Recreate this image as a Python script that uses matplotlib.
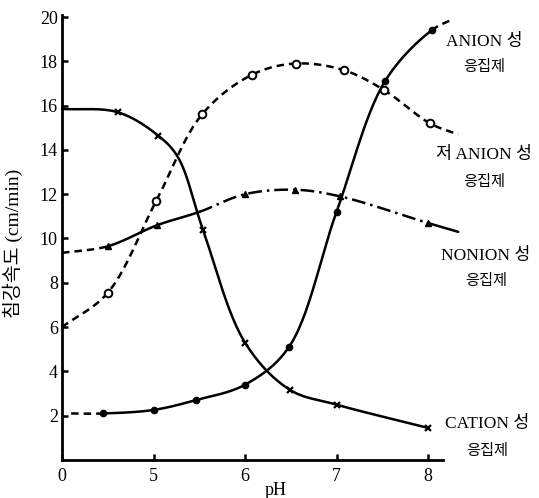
import numpy as np
import matplotlib
matplotlib.use("Agg")
import matplotlib.pyplot as plt

# ---------------- data ----------------
x_ticks = [4, 5, 6, 7, 8]
x_tick_labels = ["0", "5", "6", "7", "8"]
y_ticks = [2, 4, 6, 8, 10, 12, 14, 16, 18, 20]

anion_ph = [4.1, 4.45, 5.0, 5.46, 6.0, 6.48, 7.0, 7.53, 8.04, 8.27]
anion_v = [2.1, 2.1, 2.26, 2.7, 3.4, 5.1, 11.2, 17.1, 19.4, 19.9]
anion_marked = [1, 2, 3, 4, 5, 6, 7, 8]

low_anion_ph = [4.0, 4.5, 5.03, 5.53, 6.08, 6.56, 7.08, 7.52, 8.02, 8.33]
low_anion_v = [6.0, 7.55, 11.7, 15.6, 17.4, 17.9, 17.6, 16.7, 15.2, 14.7]
low_anion_marked = [1, 2, 3, 4, 5, 6, 7, 8]

nonion_ph = [4.0, 4.5, 5.04, 5.5, 6.0, 6.55, 7.04, 8.0, 8.33]
nonion_v = [9.35, 9.65, 10.6, 11.2, 12.0, 12.2, 11.9, 10.7, 10.3]
nonion_marked = [1, 2, 4, 5, 6, 7]

cation_ph = [4.0, 4.61, 5.05, 5.27, 5.54, 6.0, 6.49, 7.0, 8.0]
cation_v = [15.85, 15.7, 14.65, 13.65, 10.4, 5.3, 3.17, 2.5, 1.45]
cation_marked = [1, 2, 4, 5, 6, 7, 8]

labels = [("ANION 성", "응집제"), ("저 ANION 성", "응집제"),
          ("NONION 성", "응집제"), ("CATION 성", "응집제")]

# ---------------- figure ----------------
W, H = 539, 498
fig = plt.figure(figsize=(W / 100, H / 100), dpi=100)
px_per_x = 91.5
px_per_y = 22.15
x0_px, y0_px = 62, 460
x_right_px, y_top_px = 443, 15
ax = fig.add_axes([x0_px / W, 1 - y0_px / H,
                   (x_right_px - x0_px) / W, (y0_px - y_top_px) / H])
ax.set_xlim(4, 4 + (x_right_px - x0_px) / px_per_x)
ax.set_ylim(0, (y0_px - y_top_px) / px_per_y)

serif = ["Liberation Serif", "Noto Sans CJK KR"]


def catmull(xs, ys, n=30):
    """centripetal Catmull-Rom, returns list of per-segment arrays"""
    P = np.column_stack([np.asarray(xs) * px_per_x, np.asarray(ys) * px_per_y])
    first = 2 * P[0] - P[1]
    last = 2 * P[-1] - P[-2]
    Q = np.vstack([first, P, last])
    segs = []
    for i in range(1, len(Q) - 2):
        p0, p1, p2, p3 = Q[i - 1], Q[i], Q[i + 1], Q[i + 2]
        a = 0.5
        t0 = 0.0
        t1 = t0 + np.linalg.norm(p1 - p0) ** a
        t2 = t1 + np.linalg.norm(p2 - p1) ** a
        t3 = t2 + np.linalg.norm(p3 - p2) ** a
        t = np.linspace(t1, t2, n)[:, None]
        A1 = (t1 - t) / (t1 - t0) * p0 + (t - t0) / (t1 - t0) * p1
        A2 = (t2 - t) / (t2 - t1) * p1 + (t - t1) / (t2 - t1) * p2
        A3 = (t3 - t) / (t3 - t2) * p2 + (t - t2) / (t3 - t2) * p3
        B1 = (t2 - t) / (t2 - t0) * A1 + (t - t0) / (t2 - t0) * A2
        B2 = (t3 - t) / (t3 - t1) * A2 + (t - t1) / (t3 - t1) * A3
        C = (t2 - t) / (t2 - t1) * B1 + (t - t1) / (t2 - t1) * B2
        segs.append((C[:, 0] / px_per_x, C[:, 1] / px_per_y))
    return segs


def draw(xs, ys, styles, lw=1.8):
    segs = catmull(xs, ys)
    i = 0
    while i < len(segs):
        j = i
        while j + 1 < len(segs) and styles[j + 1] == styles[i]:
            j += 1
        sx = np.concatenate([segs[k][0] for k in range(i, j + 1)])
        sy = np.concatenate([segs[k][1] for k in range(i, j + 1)])
        ax.plot(sx, sy, color="black", lw=lw, linestyle=styles[i],
                clip_on=False, solid_capstyle="round", zorder=2)
        i = j + 1


dash = (0, (3.0, 2.0))
dashdot = (0, (5.5, 2.0, 1.0, 2.0))

draw(anion_ph, anion_v, [dash] + ["-"] * 7 + [dash])
draw(low_anion_ph, low_anion_v, [dash] * 9)
draw(nonion_ph, nonion_v, [dash, "-", "-", dashdot, dashdot, dashdot, dashdot, "-"])
draw(cation_ph, cation_v, ["-"] * 8)

ax.plot([anion_ph[i] for i in anion_marked], [anion_v[i] for i in anion_marked],
        "o", color="black", ms=4.5, clip_on=False, zorder=3)
ax.plot([low_anion_ph[i] for i in low_anion_marked],
        [low_anion_v[i] for i in low_anion_marked],
        "o", mfc="white", mec="black", mew=1.4, ms=5.5, clip_on=False, zorder=3)
ax.plot([nonion_ph[i] for i in nonion_marked], [nonion_v[i] for i in nonion_marked],
        "^", color="black", ms=4.5, clip_on=False, zorder=3)
ax.plot([cation_ph[i] for i in cation_marked], [cation_v[i] for i in cation_marked],
        "x", color="black", ms=4.5, mew=1.6, clip_on=False, zorder=3)

# axes styling
for s in ["top", "right"]:
    ax.spines[s].set_visible(False)
for s in ["left", "bottom"]:
    ax.spines[s].set_linewidth(2.0)
ax.set_xticks(x_ticks)
ax.set_xticklabels(x_tick_labels)
ax.set_yticks(y_ticks)
ax.set_yticklabels([str(v) for v in y_ticks])
ax.tick_params(axis="both", direction="in", length=4, width=1.8, labelsize=13)
ax.tick_params(axis="y", pad=3)
ax.tick_params(axis="x", pad=6)
for lab in ax.get_xticklabels() + ax.get_yticklabels():
    lab.set_family(serif)

# axis labels
fig.text(13 / W, 1 - 243 / H, "침강속도 (cm/min)", rotation=90, ha="center",
         va="center", fontsize=14, family=serif)
fig.text(276 / W, 1 - 490 / H, "pH", ha="center", va="center", fontsize=13,
         family=serif)

# right-hand labels
label_pos = [(484, 42, 67), (484, 155, 182), (486, 256, 281), (487, 424, 451)]
for (l1, l2), (cx, y1, y2) in zip(labels, label_pos):
    fig.text(cx / W, 1 - y1 / H, l1, ha="center", va="center", fontsize=12.5,
             family=serif)
    fig.text(cx / W, 1 - y2 / H, l2, ha="center", va="center", fontsize=11,
             family=serif)

fig.savefig("out.png", dpi=100)
